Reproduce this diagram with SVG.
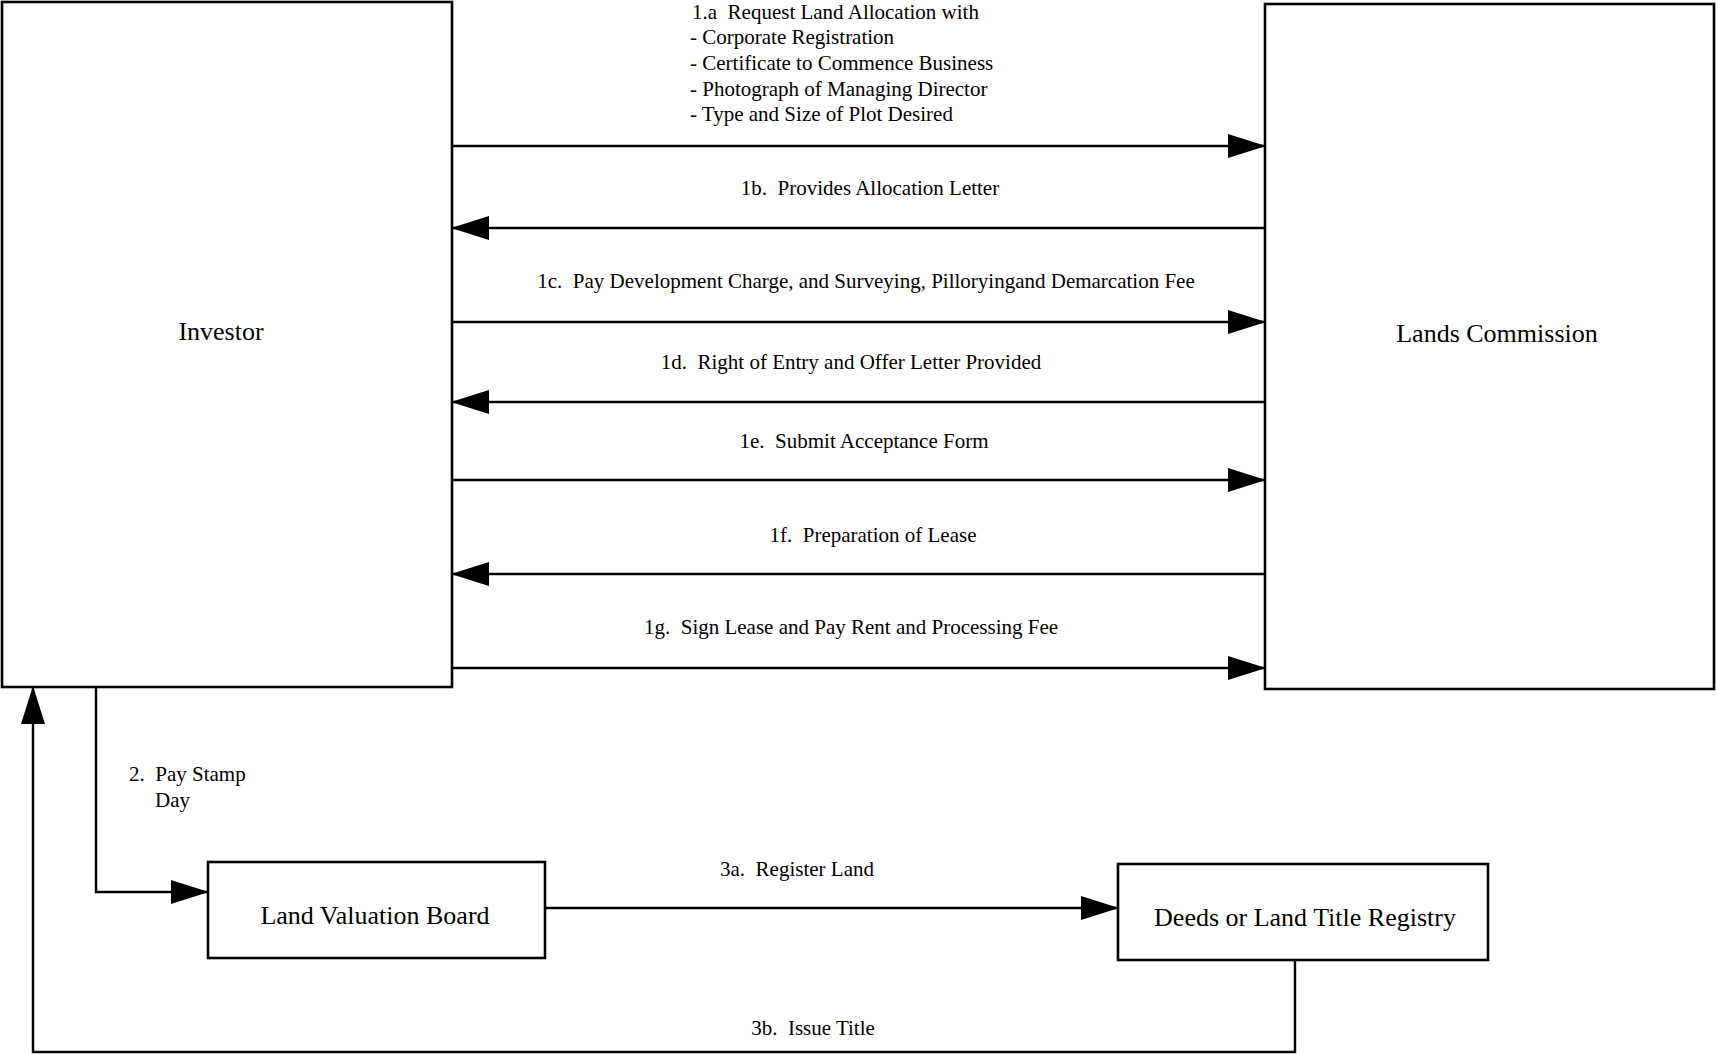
<svg xmlns="http://www.w3.org/2000/svg" width="1717" height="1054" viewBox="0 0 1717 1054">
<style>
.box{fill:#fff;stroke:#000;stroke-width:2.6}
.ln{fill:none;stroke:#000;stroke-width:2.4}
.lbl{font-family:"Liberation Serif","Times New Roman",serif;font-size:21px;fill:#000}
.nd{font-family:"Liberation Serif","Times New Roman",serif;font-size:26px;fill:#000;text-anchor:middle}
.c{text-anchor:middle}
</style>
<defs>
<marker id="ah" markerUnits="userSpaceOnUse" markerWidth="38" markerHeight="24" refX="37" refY="12" orient="auto">
<path d="M0,0 L38,12 L0,24 z" fill="#000"/>
</marker>
</defs>
<rect width="1717" height="1054" fill="#fff"/>
<g id="investor">
<rect class="box" x="2" y="2" width="450" height="685"/>
<text class="nd" x="221" y="340">Investor</text>
</g>
<g id="lands-commission">
<rect class="box" x="1265" y="4" width="449" height="685"/>
<text class="nd" x="1497" y="342">Lands Commission</text>
</g>
<g id="land-valuation-board">
<rect class="box" x="208" y="862" width="337" height="96"/>
<text class="nd" x="375" y="924">Land Valuation Board</text>
</g>
<g id="deeds-registry">
<rect class="box" x="1118" y="864" width="370" height="96"/>
<text class="nd" x="1305" y="926">Deeds or Land Title Registry</text>
</g>
<g id="connectors">
<path class="ln" d="M452,146 H1265" marker-end="url(#ah)"/>
<path class="ln" d="M1265,228 H452" marker-end="url(#ah)"/>
<path class="ln" d="M452,322 H1265" marker-end="url(#ah)"/>
<path class="ln" d="M1265,402 H452" marker-end="url(#ah)"/>
<path class="ln" d="M452,480 H1265" marker-end="url(#ah)"/>
<path class="ln" d="M1265,574 H452" marker-end="url(#ah)"/>
<path class="ln" d="M452,668 H1265" marker-end="url(#ah)"/>
<path class="ln" d="M96,687 V892 H208" marker-end="url(#ah)"/>
<path class="ln" d="M545,908 H1118" marker-end="url(#ah)"/>
<path class="ln" d="M1295,960 V1052 H33 V687" marker-end="url(#ah)"/>
</g>
<g id="labels">
<text class="lbl" x="692" y="19" xml:space="preserve">1.a  Request Land Allocation with</text>
<text class="lbl" x="690" y="44">- Corporate Registration</text>
<text class="lbl" x="690" y="70">- Certificate to Commence Business</text>
<text class="lbl" x="690" y="96">- Photograph of Managing Director</text>
<text class="lbl" x="690" y="121">- Type and Size of Plot Desired</text>
<text class="lbl c" x="870" y="195" xml:space="preserve">1b.  Provides Allocation Letter</text>
<text class="lbl c" x="866" y="288" xml:space="preserve">1c.  Pay Development Charge, and Surveying, Pilloryingand Demarcation Fee</text>
<text class="lbl c" x="851" y="369" xml:space="preserve">1d.  Right of Entry and Offer Letter Provided</text>
<text class="lbl c" x="864" y="448" xml:space="preserve">1e.  Submit Acceptance Form</text>
<text class="lbl c" x="873" y="542" xml:space="preserve">1f.  Preparation of Lease</text>
<text class="lbl c" x="851" y="634" xml:space="preserve">1g.  Sign Lease and Pay Rent and Processing Fee</text>
<text class="lbl" x="129" y="781" xml:space="preserve">2.  Pay Stamp</text>
<text class="lbl" x="155" y="807">Day</text>
<text class="lbl c" x="797" y="876" xml:space="preserve">3a.  Register Land</text>
<text class="lbl c" x="813" y="1035" xml:space="preserve">3b.  Issue Title</text>
</g>
</svg>
